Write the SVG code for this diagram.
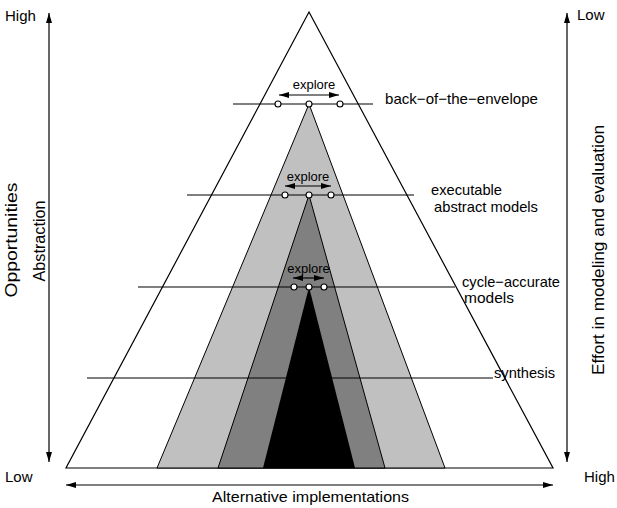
<svg xmlns="http://www.w3.org/2000/svg" width="617" height="508" viewBox="0 0 617 508">
<defs>
<marker id="ah" viewBox="0 0 10 6" refX="10" refY="3" markerWidth="10" markerHeight="6" orient="auto-start-reverse" markerUnits="userSpaceOnUse">
<path d="M0,0 L10,3 L0,6 Z" fill="#000"/>
</marker>
</defs>
<style>
text{font-family:"Liberation Sans",Arial,sans-serif;fill:#000}
.t{font-size:15px}
.r{font-size:16px}
.ex{font-size:13px}
.ln{stroke:#000;stroke-width:1.2;fill:none}
.hl{stroke:#000;stroke-width:1.1}
.c{fill:#fff;stroke:#000;stroke-width:1.1}
</style>
<rect width="617" height="508" fill="#fff"/>
<g id="triangle-outer"><polygon points="309,12 553,468 66,468" fill="#fff" stroke="#000" stroke-width="1.2"/></g>
<g id="triangle-light"><polygon points="309,104 445,468 157,468" fill="#c0c0c0" stroke="#000" stroke-width="1"/></g>
<g id="triangle-mid"><polygon points="309,195 385,468 218,468" fill="#808080" stroke="#000" stroke-width="1"/></g>
<g id="triangle-black"><polygon points="309,287 355,468 263,468" fill="#000"/></g>
<g id="connectors">
<line class="ln" x1="49" y1="462" x2="49" y2="13" marker-end="url(#ah)" marker-start="url(#ah)"/>
<line class="ln" x1="567" y1="13" x2="567" y2="462" marker-end="url(#ah)" marker-start="url(#ah)"/>
<line class="ln" x1="66" y1="485" x2="553" y2="485" marker-end="url(#ah)" marker-start="url(#ah)"/>
<line class="ln" x1="279" y1="95" x2="339" y2="95" marker-end="url(#ah)" marker-start="url(#ah)"/>
<line class="ln" x1="285" y1="186" x2="331" y2="186" marker-end="url(#ah)" marker-start="url(#ah)"/>
<line class="ln" x1="293" y1="278" x2="324" y2="278" marker-end="url(#ah)" marker-start="url(#ah)"/>
</g>
<g id="level-envelope">
<line class="hl" x1="233" y1="104" x2="373" y2="104"/>
<circle class="c" cx="278" cy="104" r="3"/><circle class="c" cx="309" cy="104" r="3"/><circle class="c" cx="340" cy="104" r="3"/>
<text class="ex" x="314" y="89" text-anchor="middle">explore</text>
<text class="t" x="385" y="104" textLength="153" lengthAdjust="spacingAndGlyphs">back−of−the−envelope</text>
</g>
<g id="level-executable">
<line class="hl" x1="187" y1="195" x2="414" y2="195"/>
<circle class="c" cx="285" cy="195" r="3"/><circle class="c" cx="309" cy="195" r="3"/><circle class="c" cx="331" cy="195" r="3"/>
<text class="ex" x="308" y="181" text-anchor="middle">explore</text>
<text class="t" x="431" y="195" textLength="71" lengthAdjust="spacingAndGlyphs">executable</text>
<text class="t" x="434" y="212" textLength="104" lengthAdjust="spacingAndGlyphs">abstract models</text>
</g>
<g id="level-cycle">
<line class="hl" x1="138" y1="287" x2="455" y2="287"/>
<circle class="c" cx="294" cy="287" r="3"/><circle class="c" cx="309" cy="287" r="3"/><circle class="c" cx="324" cy="287" r="3"/>
<text class="ex" x="308.5" y="273" text-anchor="middle">explore</text>
<text class="t" x="462" y="287" textLength="98" lengthAdjust="spacingAndGlyphs">cycle−accurate</text>
<text class="t" x="464" y="303" textLength="50" lengthAdjust="spacingAndGlyphs">models</text>
</g>
<g id="level-synthesis">
<line class="hl" x1="87" y1="378" x2="493" y2="378"/>
<text class="t" x="494" y="378" textLength="61" lengthAdjust="spacingAndGlyphs">synthesis</text>
</g>
<g id="axis-left">
<text class="t" x="5" y="21">High</text>
<text class="t" x="5" y="482">Low</text>
<text class="r" transform="translate(17,240) rotate(-90)" text-anchor="middle" textLength="115" lengthAdjust="spacingAndGlyphs">Opportunities</text>
<text class="r" transform="translate(45,241) rotate(-90)" text-anchor="middle" textLength="81" lengthAdjust="spacingAndGlyphs">Abstraction</text>
</g>
<g id="axis-right">
<text class="t" x="577" y="20">Low</text>
<text class="t" x="584" y="482">High</text>
<text class="r" transform="translate(604,250) rotate(-90)" text-anchor="middle" textLength="250" lengthAdjust="spacingAndGlyphs">Effort in modeling and evaluation</text>
</g>
<g id="axis-bottom">
<text class="t" x="310.5" y="502" text-anchor="middle" textLength="197" lengthAdjust="spacingAndGlyphs">Alternative implementations</text>
</g>
</svg>
